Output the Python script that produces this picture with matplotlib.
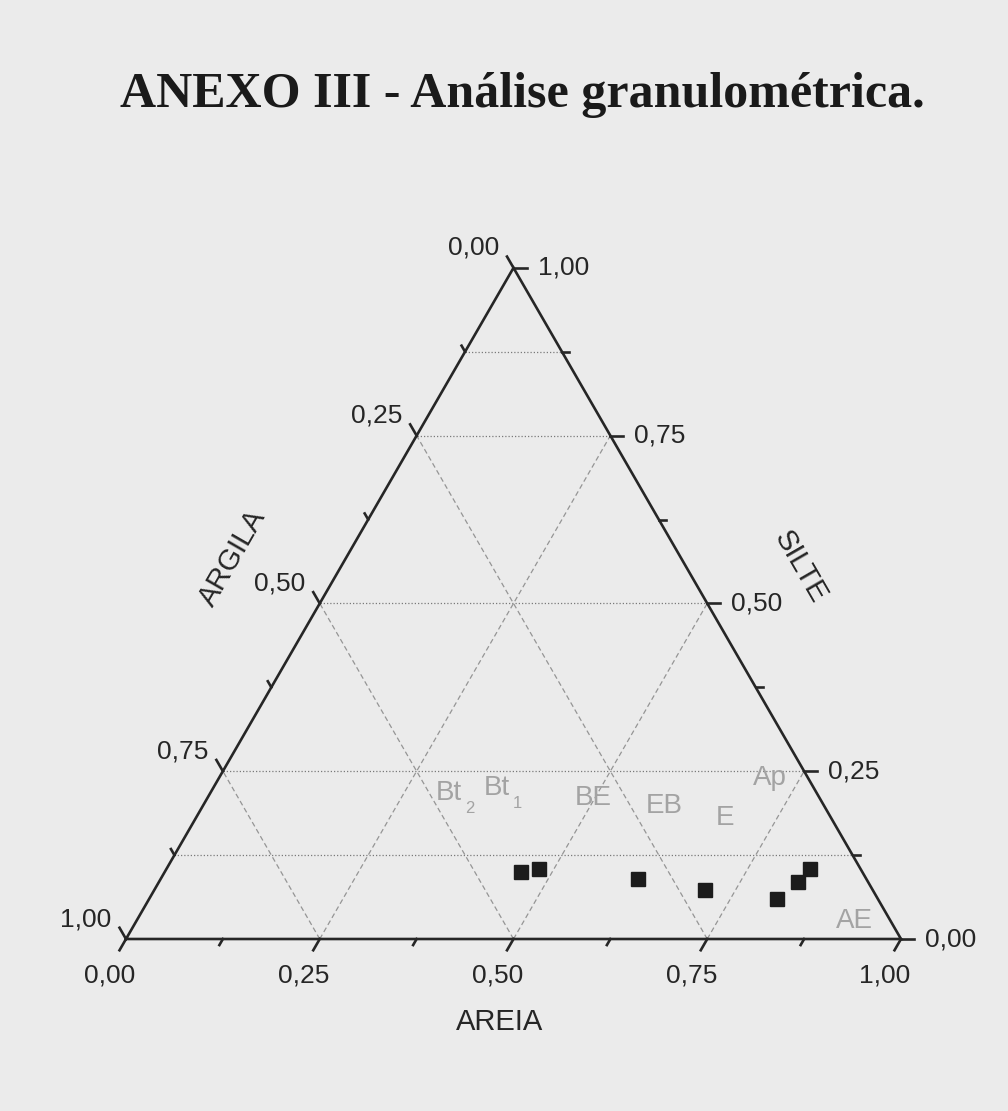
import matplotlib
matplotlib.use("Agg")
import matplotlib.pyplot as plt
import numpy as np

# granulometria das amostras (fracoes)
areia = np.array([0.46, 0.48, 0.615, 0.71, 0.81, 0.825, 0.83])
silte = np.array([0.10, 0.105, 0.09, 0.073, 0.06, 0.085, 0.104])
argila = 1.0 - areia - silte

# rotulos dos horizontes (posicao em areia/silte)
horiz_nome = ["Bt", "Bt", "BE", "EB", "E", "Ap", "AE"]
horiz_sub = ["2", "1", "", "", "", "", ""]
horiz_areia = [0.308, 0.366, 0.4975, 0.595, 0.683, 0.711, 0.927]
horiz_silte = [0.218, 0.225, 0.210, 0.198, 0.180, 0.240, 0.027]

major = [0.0, 0.25, 0.50, 0.75, 1.0]
minor = [0.125, 0.375, 0.625, 0.875]
hgrid = [0.125, 0.25, 0.50, 0.75, 0.875]
dgrid = [0.25, 0.50, 0.75]

H = np.sqrt(3) / 2
W, HGT = 1008, 1111
PX = 775.0  # pixels per unit of side


def tern(a, s):
    # areia -> canto inferior direito, silte -> topo, argila -> canto inferior esquerdo
    a = np.asarray(a, dtype=float)
    s = np.asarray(s, dtype=float)
    return a + s / 2.0, s * H


def fmt(v):
    return "{:.2f}".format(v).replace(".", ",")


plt.rcParams["font.family"] = ["Liberation Sans", "DejaVu Sans"]
bg = "#ebebeb"
ink = "#262626"

fig = plt.figure(figsize=(W / 100, HGT / 100), dpi=100, facecolor=bg)
ax = fig.add_axes([126 / W, (HGT - 939) / HGT, PX / W, PX * H / HGT])
ax.set_xlim(0, 1)
ax.set_ylim(0, H)
ax.axis("off")
ax.patch.set_alpha(0)

# grade
for v in hgrid:
    x, y = tern([0, 1 - v], [v, v])
    ax.plot(x, y, color="#7a7a7a", lw=0.9, ls=(0, (1, 1.6)), zorder=1)
for v in dgrid:
    x, y = tern([v, v], [0, 1 - v])
    ax.plot(x, y, color="#959595", lw=0.9, ls=(0, (4, 2.5)), zorder=1)
    x, y = tern([1 - v, 0], [0, 1 - v])
    ax.plot(x, y, color="#959595", lw=0.9, ls=(0, (4, 2.5)), zorder=1)

# triangulo
x, y = tern([0, 1, 0, 0], [0, 0, 1, 0])
ax.plot(x, y, color=ink, lw=1.9, solid_joinstyle="miter", zorder=3,
        clip_on=False)

# marcas dos eixos
tick_dir = {
    "areia": (-0.5, -H),
    "argila": (-0.5, H),
    "silte": (1.0, 0.0),
}


def axis_point(name, v):
    if name == "areia":
        return tern(v, 0)
    if name == "argila":
        return tern(0, 1 - v)
    return tern(1 - v, v)


for name, (dx, dy) in tick_dir.items():
    for vals, ln in ((major, 13 / PX), (minor, 7 / PX)):
        for v in vals:
            px, py = axis_point(name, v)
            ax.plot([px, px + dx * ln], [py, py + dy * ln], color=ink,
                    lw=1.9, zorder=3, clip_on=False)

label_off = {
    "areia": ((-16, -37), "center"),
    "argila": ((-40, 20), "center"),
    "silte": ((24, 0), "left"),
}
for name, (off, ha) in label_off.items():
    for v in major:
        px, py = axis_point(name, v)
        ax.annotate(fmt(v), (float(px), float(py)), xytext=off,
                    textcoords="offset pixels", ha=ha, va="center",
                    fontsize=19, color=ink, annotation_clip=False)

# horizontes
for nome, sub, a, s in zip(horiz_nome, horiz_sub, horiz_areia, horiz_silte):
    px, py = tern(a, s)
    ax.text(float(px), float(py), nome, ha="center", va="center",
            fontsize=20, color="#a3a3a3", zorder=2)
    if sub:
        ax.annotate(sub, (float(px), float(py)), xytext=(21, -16),
                    textcoords="offset pixels", ha="center", va="center",
                    fontsize=12, color="#a3a3a3")

# amostras
x, y = tern(areia, silte)
ax.plot(x, y, "s", color="#1c1c1c", markersize=9.5, zorder=4)

# titulos
fig.text(500 / W, 1 - 1022 / HGT, "AREIA", ha="center", va="center",
         fontsize=21, color=ink)
fig.text(233 / W, 1 - 558 / HGT, "ARGILA", ha="center", va="center",
         fontsize=21, color=ink, rotation=60)
fig.text(800 / W, 1 - 567 / HGT, "SILTE", ha="center", va="center",
         fontsize=21, color=ink, rotation=-60)

fig.text(522 / W, 1 - 107 / HGT, "ANEXO III - Análise granulométrica.",
         ha="center", va="baseline", fontsize=36, fontweight="bold",
         family=["Liberation Serif", "DejaVu Serif"], color="#1a1a1a")

fig.savefig("out.png", dpi=100, facecolor=bg)
